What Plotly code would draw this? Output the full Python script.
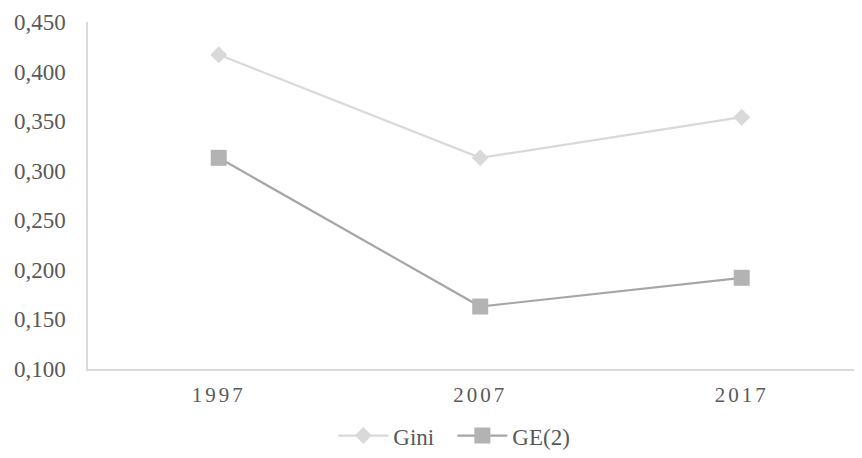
import plotly.graph_objects as go

years = ["1997", "2007", "2017"]
gini = [0.417, 0.313, 0.354]
ge2 = [0.313, 0.163, 0.192]
y_ticks = [0.100, 0.150, 0.200, 0.250, 0.300, 0.350, 0.400, 0.450]

fig = go.Figure()
fig.add_trace(go.Scatter(
    x=years, y=gini, name="Gini", mode="lines+markers",
    line=dict(color="#d9d9d9", width=2.2),
    marker=dict(symbol="diamond", size=13, color="#d9d9d9"),
))
fig.add_trace(go.Scatter(
    x=years, y=ge2, name="GE(2)", mode="lines+markers",
    line=dict(color="#a6a6a6", width=2.2),
    marker=dict(symbol="square", size=16, color="#b3b3b3"),
))

fig.update_layout(
    width=854, height=450,
    margin=dict(l=80, r=0, t=14, b=89, autoexpand=False),
    plot_bgcolor="white", paper_bgcolor="white",
    separators=",.",
    font=dict(family="'Liberation Serif', 'Times New Roman', serif", size=23, color="#595959"),
    showlegend=True,
    legend=dict(orientation="h", x=0.317, xanchor="left", y=-0.13, yanchor="top",
                font=dict(size=23, color="#595959"), itemwidth=50,
                entrywidth=54, entrywidthmode="pixels"),
    xaxis=dict(type="category", range=[-0.5, 2.46], showgrid=False,
               showline=True, linecolor="#d9d9d9", linewidth=1.5,
               ticks="", tickfont=dict(size=21), ticklabelstandoff=6),
    yaxis=dict(range=[0.100, 0.450], tickvals=y_ticks, tickformat=".3f",
               showgrid=False, showline=True, linecolor="#d9d9d9", linewidth=1.5,
               ticks="", zeroline=False, ticklabelstandoff=16),
)

post = """
function sp(){document.querySelectorAll('.xtick text').forEach(function(t){t.style.letterSpacing='3px';});}
sp();
var gd=document.getElementById('{plot_id}');
if(gd && gd.on){gd.on('plotly_afterplot', sp);}
"""

fig.write_html("out.html", post_script=post)
